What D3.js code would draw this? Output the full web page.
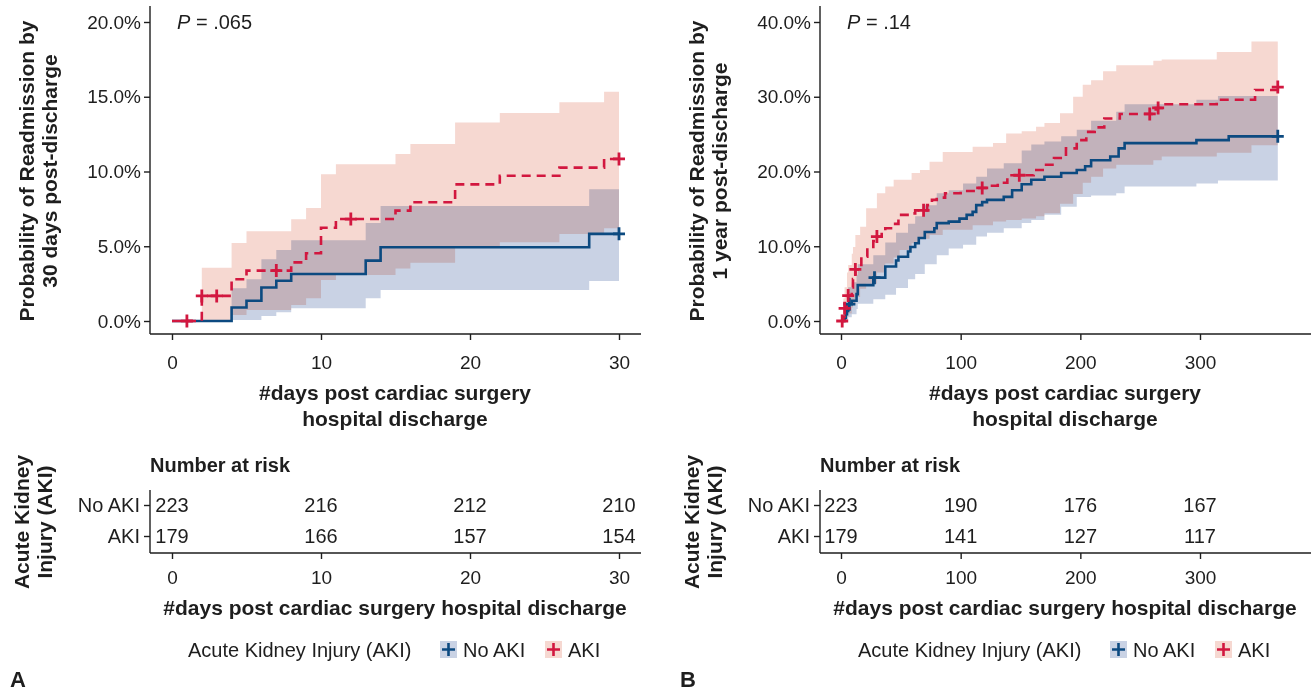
<!DOCTYPE html>
<html>
<head>
<meta charset="utf-8">
<script src="https://cdn.jsdelivr.net/npm/d3@7"></script>
<style>
  body { margin: 0; background: #fff; }
  svg { font-family: "Liberation Sans", Arial, sans-serif; }
</style>
</head>
<body>
<svg id="chart" width="1316" height="694"></svg>
<script>
// ---- panel A: 30 days ----
const aXTicks = [0, 10, 20, 30];
const aYTicks = [0, 5, 10, 15, 20];
// [day, cumulative incidence %]
const aNoAkiSteps = [[0,0],[4,0.90],[5,1.35],[6,2.24],[7,2.69],[8,3.14],[13,4.04],[14,4.93],[28,5.83],[30,5.83]];
const aAkiSteps = [[0,0],[2,1.68],[4,2.79],[5,3.37],[8,3.92],[9,4.53],[10,6.24],[11,6.82],[15,7.38],[16,7.94],[19,9.14],[22,9.72],[26,10.26],[29,10.84],[30,10.84]];
// [day, lower %, upper %]
const aNoAkiBand = [[4,0.07,2.19],[5,0.07,2.79],[6,0.33,4.13],[7,0.58,4.75],[8,0.85,5.40],[13,1.52,6.56],[14,2.07,7.69],[28,2.68,8.81],[30,2.68,8.81]];
const aAkiBand = [[2,0.05,3.57],[4,0.40,5.22],[5,0.74,6.00],[8,1.07,6.81],[9,1.52,7.56],[10,2.74,9.81],[11,3.08,10.48],[15,3.52,11.17],[16,3.90,11.84],[19,5.02,13.27],[22,5.26,13.91],[26,5.82,14.63],[29,6.20,15.34],[30,6.20,15.34]];
const aNoAkiCensor = [[30,5.83]];
const aAkiCensor = [[1,0],[2,1.68],[3,1.68],[7,3.37],[12,6.82],[30,10.84]];
const aRiskNoAki = [223, 216, 212, 210];
const aRiskAki = [179, 166, 157, 154];

// ---- panel B: 1 year ----
const bXTicks = [0, 100, 200, 300];
const bYTicks = [0, 10, 20, 30, 40];
const bNoAkiSteps = [[0,0],[3,0.45],[4,0.9],[5,1.35],[6,2.25],[9,2.7],[13,3.6],[14,4.8],[27,5.8],[37,7.3],[46,8.1],[48,8.6],[56,9.3],[58,9.9],[62,10.4],[65,11.1],[70,11.9],[78,12.4],[80,13.1],[90,13.3],[99,13.7],[105,14.2],[110,14.6],[113,15.5],[118,15.9],[122,16.2],[136,16.6],[143,17.5],[151,18.3],[159,18.9],[170,19.3],[184,19.8],[197,20.2],[204,20.7],[209,21.5],[225,22.0],[232,23.1],[237,23.8],[297,24.2],[324,24.7],[365,24.7]];
const bAkiSteps = [[0,0],[2,0.6],[3,1.7],[5,2.8],[6,3.4],[9,4.5],[10,5.6],[12,6.9],[14,7.5],[17,8.6],[22,9.9],[27,10.7],[30,11.3],[34,11.9],[37,12.4],[43,13.0],[48,14.2],[57,14.4],[62,14.8],[72,15.5],[76,16.2],[80,16.5],[87,17.1],[100,17.4],[112,17.8],[125,18.1],[131,18.5],[139,19.5],[161,20.2],[170,20.9],[178,21.8],[188,23.1],[197,24.2],[205,25.3],[212,25.9],[220,27.1],[233,27.7],[263,28.5],[268,29.0],[314,29.6],[346,30.9],[365,31.3]];
const bNoAkiBand = [[3,0,1.5],[4,0.1,2.5],[6,0.5,4.5],[9,0.9,5.2],[13,1.6,6.2],[14,2.3,7.6],[27,2.9,8.8],[37,3.5,10.5],[46,4.4,11.8],[56,5.6,13.0],[62,6.3,14.0],[70,7.6,15.5],[80,8.8,17.1],[90,9.7,17.5],[102,10.2,18.4],[113,11.3,19.3],[122,11.8,20.4],[136,12.4,21.1],[151,13.1,22.8],[159,13.5,23.6],[170,14.2,24.0],[184,15.3,24.7],[197,16.6,25.6],[209,16.8,26.8],[230,17.1,28.0],[237,18.0,29.0],[297,18.4,29.6],[315,18.8,30.1],[365,18.8,30.1]];
const bAkiBand = [[2,0,3.0],[3,0.1,4.5],[5,0.6,6.5],[6,1.0,7.5],[9,1.8,9.0],[10,2.2,9.9],[12,3.2,11.5],[16,4.3,12.6],[21,5.0,15.1],[30,6.5,17.1],[37,7.7,18.0],[44,8.5,18.9],[49,9.5,18.9],[59,10.4,19.8],[66,11.0,20.2],[74,11.5,21.3],[85,12.2,22.6],[110,12.8,23.3],[127,13.3,23.8],[138,13.5,25.1],[151,13.7,25.4],[163,14.0,26.0],[170,14.4,26.5],[183,15.7,27.8],[194,17.0,30.0],[202,18.5,31.6],[209,19.3,32.2],[219,20.4,33.4],[230,20.9,34.2],[261,21.5,34.8],[268,22.0,35.0],[314,22.5,36.0],[343,23.5,37.4],[365,23.5,37.4]];
const bNoAkiCensor = [[7,2.25],[28,5.8],[365,24.7]];
const bAkiCensor = [[1,0],[3,1.7],[6,3.4],[12,6.9],[30,11.3],[69,14.8],[118,17.8],[149,19.5],[258,27.7],[265,28.5],[365,31.3]];
const bRiskNoAki = [223, 190, 176, 167];
const bRiskAki = [179, 141, 127, 117];

const groups = ["No AKI", "AKI"];

const blue = "#0c4a80", red = "#d2173f";
const blueFill = "#c9d2e4", redFill = "#f6d8d1";
const ink = "#1e1e1e";

const svg = d3.select("#chart");

function drawPanel(dx, p) {
  const g = svg.append("g").attr("transform", `translate(${dx},0)`);
  const x = d3.scaleLinear().domain([0, p.xTicks[3]]).range(p.xRange);
  const y = d3.scaleLinear().domain([0, p.yTicks[4]]).range([321, 22]);

  const area = d3.area().curve(d3.curveStepAfter)
    .x(d => x(d[0])).y0(d => y(d[1])).y1(d => y(d[2]));
  const line = d3.line().curve(d3.curveStepAfter)
    .x(d => x(d[0])).y(d => y(d[1]));

  // bands, overlap darkens like in the original
  g.append("path").datum(p.akiBand).attr("d", area).attr("fill", redFill);
  g.append("path").datum(p.noAkiBand).attr("d", area).attr("fill", blueFill)
    .style("mix-blend-mode", "multiply");

  // curves
  g.append("path").datum(p.noAki).attr("d", line)
    .attr("fill", "none").attr("stroke", blue).attr("stroke-width", 2.6);
  g.append("path").datum(p.aki).attr("d", line)
    .attr("fill", "none").attr("stroke", red).attr("stroke-width", 2.6)
    .attr("stroke-dasharray", "9,6");

  const plus = "M-6,0H6M0,-6.5V6.5";
  g.selectAll(".cb").data(p.noAkiCensor).join("path")
    .attr("d", plus).attr("transform", d => `translate(${x(d[0])},${y(d[1])})`)
    .attr("stroke", blue).attr("stroke-width", 2.8);
  g.selectAll(".cr").data(p.akiCensor).join("path")
    .attr("d", plus).attr("transform", d => `translate(${x(d[0])},${y(d[1])})`)
    .attr("stroke", red).attr("stroke-width", 2.8);

  // axes
  const ya = g.append("g").attr("transform", "translate(150,0)")
    .call(d3.axisLeft(y).tickValues(p.yTicks).tickFormat(d => d.toFixed(1) + "%").tickSize(6).tickPadding(3));
  const xa = g.append("g").attr("transform", "translate(0,334)")
    .call(d3.axisBottom(x).tickValues(p.xTicks).tickSize(6).tickPadding(16));
  [ya, xa].forEach(a => {
    a.select(".domain").remove();
    a.attr("font-size", 19).attr("font-family", null);
    a.selectAll("line").attr("stroke", ink).attr("stroke-width", 1.4);
    a.selectAll("text").attr("fill", ink);
  });
  g.append("line").attr("x1", 150).attr("x2", 150).attr("y1", 6).attr("y2", 334)
    .attr("stroke", ink).attr("stroke-width", 1.4);
  g.append("line").attr("x1", 150).attr("x2", 641).attr("y1", 334).attr("y2", 334)
    .attr("stroke", ink).attr("stroke-width", 1.4);

  // p value
  const pv = g.append("text").attr("x", 177).attr("y", 29).attr("font-size", 20).attr("fill", ink);
  pv.append("tspan").attr("font-style", "italic").text("P");
  pv.append("tspan").text(" = " + p.pval);

  // titles
  g.append("text").attr("x", 395).attr("y", 400).attr("text-anchor", "middle")
    .attr("font-size", 21).attr("font-weight", "bold").attr("fill", ink).text("#days post cardiac surgery");
  g.append("text").attr("x", 395).attr("y", 426).attr("text-anchor", "middle")
    .attr("font-size", 21).attr("font-weight", "bold").attr("fill", ink).text("hospital discharge");
  [["Probability of Readmission by", 34], [p.ytitle2, 57]].forEach(([t, bx]) => {
    g.append("text").attr("transform", `translate(${bx},171) rotate(-90)`).attr("text-anchor", "middle")
      .attr("font-size", 21).attr("font-weight", "bold").attr("fill", ink).text(t);
  });

  // risk table
  const ry = d3.scalePoint().domain(groups).range([505, 536]);
  g.append("text").attr("x", 150).attr("y", 472).attr("font-size", 20).attr("font-weight", "bold")
    .attr("fill", ink).text("Number at risk");
  const rya = g.append("g").attr("transform", "translate(150,0)")
    .call(d3.axisLeft(ry).tickSize(6).tickPadding(4));
  const rxa = g.append("g").attr("transform", "translate(0,553)")
    .call(d3.axisBottom(x).tickValues(p.xTicks).tickSize(6).tickPadding(12));
  [rya, rxa].forEach(a => {
    a.select(".domain").remove();
    a.attr("font-size", 20).attr("font-family", null);
    a.selectAll("line").attr("stroke", ink).attr("stroke-width", 1.4);
    a.selectAll("text").attr("fill", ink);
  });
  rxa.attr("font-size", 19);
  g.append("line").attr("x1", 150).attr("x2", 150).attr("y1", 490).attr("y2", 553)
    .attr("stroke", ink).attr("stroke-width", 1.4);
  g.append("line").attr("x1", 150).attr("x2", 641).attr("y1", 553).attr("y2", 553)
    .attr("stroke", ink).attr("stroke-width", 1.4);
  [[p.riskNoAki, "No AKI"], [p.riskAki, "AKI"]].forEach(([vals, grp]) => {
    g.selectAll(null).data(vals).join("text")
      .attr("x", (d, i) => x(p.xTicks[i])).attr("y", ry(grp)).attr("dy", "0.35em")
      .attr("text-anchor", "middle").attr("font-size", 20).attr("fill", ink).text(d => d);
  });
  [["Acute Kidney", 29], ["Injury (AKI)", 52]].forEach(([t, bx]) => {
    g.append("text").attr("transform", `translate(${bx},522) rotate(-90)`).attr("text-anchor", "middle")
      .attr("font-size", 21).attr("font-weight", "bold").attr("fill", ink).text(t);
  });
  g.append("text").attr("x", 395).attr("y", 615).attr("text-anchor", "middle")
    .attr("font-size", 21).attr("font-weight", "bold").attr("fill", ink)
    .text("#days post cardiac surgery hospital discharge");

  // legend
  g.append("text").attr("x", 188).attr("y", 657).attr("font-size", 20).attr("fill", ink)
    .text("Acute Kidney Injury (AKI)");
  [[440, blueFill, blue, "No AKI"], [545, redFill, red, "AKI"]].forEach(([lx, f, c, t]) => {
    g.append("rect").attr("x", lx).attr("y", 641).attr("width", 17).attr("height", 17).attr("fill", f);
    g.append("path").attr("d", `M${lx + 2},649.5H${lx + 15}M${lx + 8.5},643V656`)
      .attr("stroke", c).attr("stroke-width", 2.6);
    g.append("text").attr("x", lx + 23).attr("y", 657).attr("font-size", 20).attr("fill", ink).text(t);
  });

  g.append("text").attr("x", 10).attr("y", 687).attr("font-size", 22).attr("font-weight", "bold")
    .attr("fill", ink).text(p.letter);
}

drawPanel(0, {
  xTicks: aXTicks, yTicks: aYTicks, xRange: [172, 619],
  noAki: aNoAkiSteps, aki: aAkiSteps, noAkiBand: aNoAkiBand, akiBand: aAkiBand,
  noAkiCensor: aNoAkiCensor, akiCensor: aAkiCensor,
  riskNoAki: aRiskNoAki, riskAki: aRiskAki,
  pval: ".065", ytitle2: "30 days post-discharge", letter: "A"
});
drawPanel(670, {
  xTicks: bXTicks, yTicks: bYTicks, xRange: [171, 530],
  noAki: bNoAkiSteps, aki: bAkiSteps, noAkiBand: bNoAkiBand, akiBand: bAkiBand,
  noAkiCensor: bNoAkiCensor, akiCensor: bAkiCensor,
  riskNoAki: bRiskNoAki, riskAki: bRiskAki,
  pval: ".14", ytitle2: "1 year post-discharge", letter: "B"
});
</script>
</body>
</html>
